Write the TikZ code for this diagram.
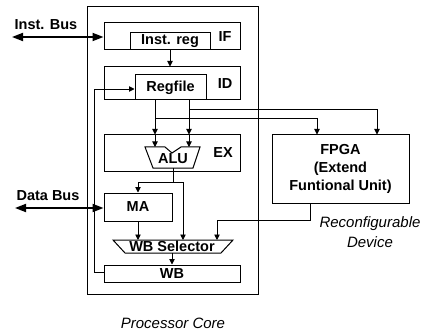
\documentclass[tikz,border=0pt]{standalone}
\usepackage{fontspec}
\setmainfont{Liberation Sans}
\usetikzlibrary{arrows.meta}
\begin{document}
\begin{tikzpicture}[x=1pt,y=-1pt,
  box/.style={draw,line width=1pt,rectangle,inner sep=0pt,anchor=center},
  lbl/.style={font=\fontsize{14.5}{16}\selectfont\bfseries,inner sep=0pt},
  ital/.style={font=\fontsize{15}{17}\selectfont\itshape,inner sep=0pt},
  conn/.style={line width=0.9pt,-{Triangle[length=5.5pt,width=5.5pt]}},
  wire/.style={line width=0.9pt},
  bus/.style={line width=1.9pt,{Triangle[length=11pt,width=8pt]}-{Triangle[length=11pt,width=8pt]}}]
\useasboundingbox (0,0) rectangle (431,334);
% outer core
\node[box,minimum width=171pt,minimum height=287pt] (core) at (172.5,150.5) {};
% stages
\node[box,minimum width=136pt,minimum height=27pt] (IF) at (172,36.5) {};
\node[box,minimum width=80pt,minimum height=17pt,lbl] (instreg) at (170,41.5) {Inst. reg};
\node[lbl] (IFl) at (225,37) {IF};
\node[box,minimum width=136pt,minimum height=33pt] (ID) at (172,83.5) {};
\node[box,minimum width=71pt,minimum height=25pt,lbl] (regfile) at (170.5,87.5) {Regfile};
\node[lbl] (IDl) at (225,84) {ID};
\node[box,minimum width=136pt,minimum height=36pt] (EX) at (172,153) {};
\node[lbl] (EXl) at (223,153) {EX};
% ALU
\draw[line width=1pt] (145,147) -- (165,147) -- (172,153) -- (181,147) -- (200,147) -- (193,168) -- (153,168) -- cycle;
\node[lbl] (alu) at (173,158.5) {ALU};
\coordinate (aluL) at (155,147);
\coordinate (aluR) at (189,147);
\coordinate (aluO) at (173,168);
% FPGA
\node[box,minimum width=137pt,minimum height=68pt,lbl,align=center] (fpga) at (340.5,169)
  {FPGA\\[2pt](Extend\\[2pt]Funtional Unit)};
% MA
\node[box,minimum width=68pt,minimum height=28pt,lbl] (MA) at (138,207) {MA};
% WB selector
\draw[line width=1pt] (113,240) -- (233,240) -- (221,253) -- (125,253) -- cycle;
\node[lbl] (wbsel) at (172,246.5) {WB Selector};
\coordinate (wsTop) at (172,240);
\coordinate (wsBot) at (172,253);
% WB
\node[box,minimum width=136pt,minimum height=17pt,lbl] (WB) at (172,273.5) {WB};
% connections
\draw[conn] (instreg.south) -- (instreg.south |- ID.north);
\coordinate (rL) at (155,100);
\coordinate (rR) at (189,100);
\draw[conn] (rL) -- (rL |- EX.north);
\draw[conn] (rL |- EX.north) -- (aluL);
\draw[conn] (rR) -- (rR |- EX.north);
\draw[conn] (rR |- EX.north) -- (aluR);
\coordinate (f1) at (317,118);
\coordinate (f2) at (377,109);
\draw[conn] (rL |- f1) -- (f1) -- (f1 |- fpga.north);
\draw[conn] (rR |- f2) -- (f2) -- (f2 |- fpga.north);
\coordinate (aj) at (173,182);
\coordinate (aj2) at (183,182);
\draw[wire] (aluO) -- (aj);
\draw[conn] (aj) -- (aj -| MA) -- (MA.north);
\draw[conn] (aj) -- (aj2) -- (183,240);
\draw[conn] (MA.south) -- (MA.south |- wsTop);
\coordinate (fo) at (310,220);
\draw[conn] (fo |- fpga.south) -- (fo) -- (217,220) -- (217,240);
\draw[conn] (wsBot) -- (wsBot |- WB.north);
\coordinate (fb1) at (94,272);
\coordinate (fb2) at (94,89);
\draw[conn] (WB.west |- fb1) -- (fb1) -- (fb2) -- (fb2 -| regfile.west);
% buses
\coordinate (ib) at (12,37);
\draw[bus] (ib) -- (ib -| IF.west);
\node[lbl] (ibl) at (46,25) {Inst. Bus};
\coordinate (db) at (15,208);
\draw[bus] (db) -- (db -| MA.west);
\node[lbl] (dbl) at (48,196) {Data Bus};
% italic labels
\node[ital,align=center] (rd) at (370,232) {Reconfigurable\\[3pt]Device};
\node[ital] (pc) at (173,323) {Processor Core};
\end{tikzpicture}
\end{document}
